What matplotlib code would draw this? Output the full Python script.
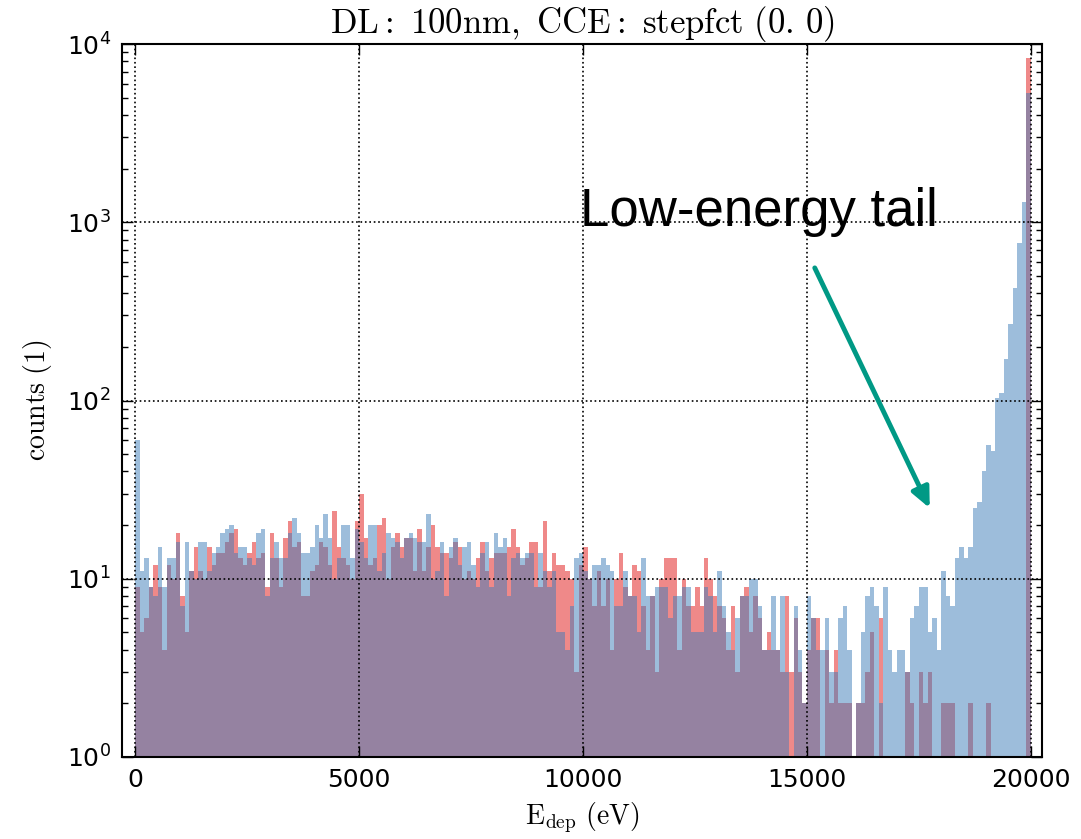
import numpy as np
import matplotlib
matplotlib.use('Agg')
import matplotlib.pyplot as plt
from matplotlib.ticker import LogLocator, NullFormatter

# 200 bins of 100 eV between 0 and 20 keV
bin_edges = np.arange(0, 20001, 100)

# counts per bin, red series (drawn first)
counts_red = [
    9, 5, 6, 9, 12, 9, 4, 12, 10, 18, 8, 5, 11, 15, 11, 10, 15, 12, 14, 14,
    16, 18, 19, 13, 12, 14, 16, 13, 14, 9, 18, 13, 9, 17, 21, 15, 16, 8, 8, 11,
    12, 16, 15, 12, 24, 15, 13, 12, 10, 21, 30, 17, 12, 13, 20, 22, 10, 15, 18, 15,
    17, 17, 11, 19, 11, 15, 20, 15, 14, 14, 13, 16, 15, 10, 11, 10, 13, 16, 11, 13,
    14, 14, 14, 15, 19, 15, 12, 13, 16, 16, 9, 21, 11, 14, 12, 12, 11, 10, 3, 12,
    15, 10, 7, 11, 7, 10, 4, 10, 14, 9, 8, 12, 11, 7, 4, 8, 3, 10, 13, 13,
    13, 4, 10, 7, 7, 9, 7, 13, 10, 8, 7, 6, 4, 7, 3, 8, 9, 5, 8, 6,
    4, 5, 4, 4, 3, 8, 3, 6, 3, 2, 4, 6, 6, 0, 4, 2, 4, 2, 2, 2,
    0, 2, 2, 3, 5, 1, 6, 0, 0, 0, 0, 0, 3, 2, 1, 3, 2, 3, 0, 0,
    2, 2, 2, 0, 0, 0, 2, 0, 0, 0, 2, 0, 0, 0, 0, 0, 0, 0, 0, 8300,
]

# counts per bin, blue series (drawn on top)
counts_blue = [
    60, 11, 13, 9, 8, 15, 9, 13, 13, 16, 7, 16, 11, 10, 16, 16, 11, 14, 15, 18,
    19, 20, 14, 15, 15, 13, 12, 18, 19, 8, 13, 16, 13, 13, 18, 22, 18, 14, 14, 15,
    20, 17, 23, 17, 10, 13, 20, 20, 13, 19, 16, 13, 20, 20, 11, 14, 18, 17, 16, 13,
    17, 18, 17, 16, 16, 23, 10, 11, 16, 8, 15, 17, 12, 15, 16, 12, 9, 14, 16, 9,
    18, 15, 17, 8, 13, 14, 13, 14, 14, 9, 14, 11, 9, 11, 5, 5, 4, 7, 13, 14,
    11, 10, 12, 12, 13, 12, 11, 7, 7, 11, 8, 8, 5, 13, 8, 8, 9, 9, 9, 6,
    8, 8, 9, 9, 5, 5, 5, 9, 8, 5, 11, 7, 5, 4, 6, 8, 8, 10, 10, 7,
    4, 4, 8, 4, 8, 3, 0, 7, 4, 2, 8, 6, 4, 4, 6, 3, 3, 6, 7, 4,
    0, 2, 5, 8, 9, 7, 2, 9, 4, 3, 4, 4, 3, 6, 7, 9, 9, 5, 6, 4,
    11, 8, 7, 13, 15, 13, 15, 25, 27, 40, 56, 52, 103, 110, 172, 267, 430, 762, 1294, 5290,
]

x_ticks = [0, 5000, 10000, 15000, 20000]

plt.rcParams['xtick.direction'] = 'in'
plt.rcParams['ytick.direction'] = 'in'
plt.rcParams['xtick.top'] = True
plt.rcParams['ytick.right'] = True

fig = plt.figure(figsize=(10.81, 8.39), dpi=100)
fig.subplots_adjust(left=122/1081, right=1042/1081, top=1-44/839, bottom=1-757/839)
ax = fig.add_subplot(111)

centers = bin_edges[:-1] + 50
ax.hist(centers, bins=bin_edges, weights=counts_red, histtype='stepfilled',
        color='#E01414', alpha=0.5, linewidth=0, log=True)
ax.hist(centers, bins=bin_edges, weights=counts_blue, histtype='stepfilled',
        color='#3C7DB9', alpha=0.5, linewidth=0, log=True)

ax.set_yscale('log')
ax.set_ylim(1, 1e4)
ax.set_xlim(-300, 20250)
ax.set_xticks(x_ticks)
ax.yaxis.set_minor_locator(LogLocator(base=10, subs=np.arange(2, 10)))
ax.yaxis.set_minor_formatter(NullFormatter())

ax.tick_params(which='major', length=8, width=1, labelsize=18, pad=8)
ax.tick_params(which='minor', length=4, width=1)
for sp in ax.spines.values():
    sp.set_linewidth(1.5)

ax.grid(True, which='major', linestyle=':', color='k', linewidth=1.2)

ax.set_title(r'$\mathrm{DL:\ 100nm,\ CCE:\ stepfct\ (0.\,0)}$',
             math_fontfamily='cm', fontsize=25, pad=6)
ax.set_xlabel(r'$\mathrm{E_{dep}\ (eV)}$', math_fontfamily='cm', fontsize=20, labelpad=6)
ax.set_ylabel(r'$\mathrm{counts\ (1)}$', math_fontfamily='cm', fontsize=20, labelpad=9)

# slide annotation
ax.text(0.498, 0.745, 'Low-energy tail', transform=ax.transAxes,
        fontsize=38, family='Liberation Sans', color='black', va='baseline')
ax.annotate('', xy=(0.878, 0.349), xytext=(0.753, 0.686),
            xycoords='axes fraction', textcoords='axes fraction',
            arrowprops=dict(arrowstyle='-|>,head_length=1.2,head_width=0.55',
                            color='#009985', linewidth=3.5, shrinkA=0, shrinkB=0))

fig.savefig('out.png', dpi=100, facecolor='white')
